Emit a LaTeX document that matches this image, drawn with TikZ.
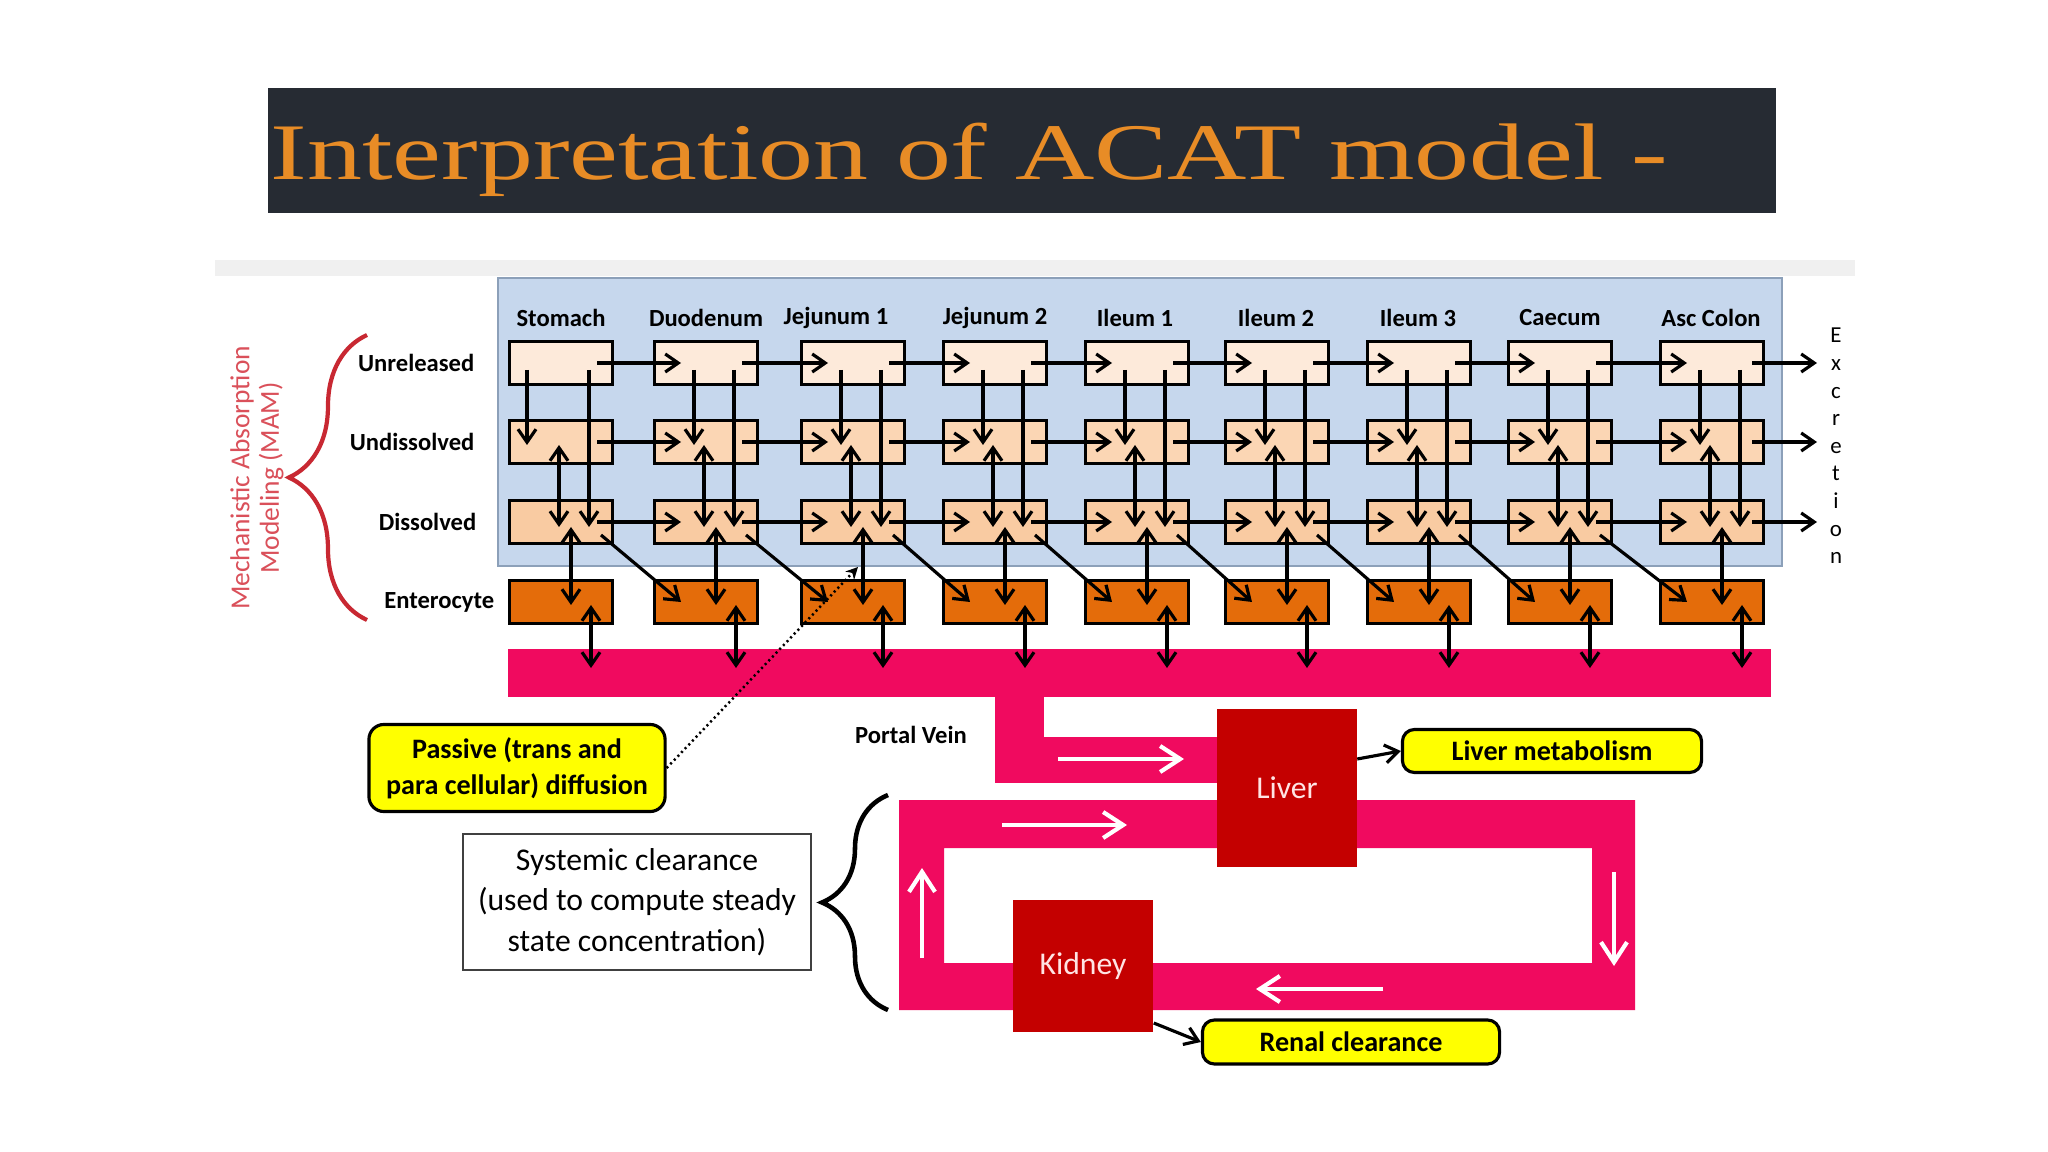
\documentclass[tikz,border=0pt]{standalone}
\usepackage{fontspec}
\setmainfont{Carlito}
\newfontfamily\titlefont{Liberation Serif}
\usetikzlibrary{arrows.meta,calc,decorations.pathreplacing}

\definecolor{titlebg}{RGB}{38,43,51}
\definecolor{titlefg}{RGB}{232,140,38}
\definecolor{panelblue}{RGB}{198,215,237}
\definecolor{panelline}{RGB}{140,160,185}
\definecolor{unrel}{RGB}{253,234,218}
\definecolor{undiss}{RGB}{251,214,180}
\definecolor{diss}{RGB}{249,203,162}
\definecolor{entero}{RGB}{228,108,10}
\definecolor{bloodpink}{RGB}{240,10,95}
\definecolor{organred}{RGB}{196,0,0}
\definecolor{organtext}{RGB}{255,228,228}
\definecolor{calloutyellow}{RGB}{255,255,0}
\definecolor{bracered}{RGB}{200,40,50}
\definecolor{mamred}{RGB}{218,80,90}

\begin{document}
\begin{tikzpicture}[x=0.01cm,y=-0.01cm,
  box/.style={draw=black,line width=1pt,minimum width=10.3mm,minimum height=4.3mm,inner sep=0pt},
  flow/.style={line width=0.9pt,-{Straight Barb[length=1.3mm,width=1.8mm]}},
  both/.style={line width=0.9pt,{Straight Barb[length=1.3mm,width=1.8mm]}-{Straight Barb[length=1.3mm,width=1.8mm]}},
  blood/.style={draw=white,line width=1.2pt,-{Straight Barb[length=2mm,width=2.6mm]}},
  head/.style={font=\fontsize{7}{8}\selectfont\bfseries},
  rowlabel/.style={anchor=east,inner sep=0pt,font=\fontsize{7}{8}\selectfont\bfseries},
  callout/.style={draw=black,line width=0.9pt,fill=calloutyellow,rounded corners=1.2mm,inner sep=0pt,align=center,font=\fontsize{8}{10.2}\selectfont\bfseries},
  organ/.style={fill=organred,text=organtext,inner sep=0pt,font=\fontsize{9}{11}\selectfont}]
  \useasboundingbox (0,0) rectangle (2048,1152);
  \fill[white] (0,0) rectangle (2048,1152);

  % Title bar
  \fill[titlebg] (268,88) rectangle (1776,213);
  \node[anchor=base west,inner sep=0pt,text=titlefg] (title) at (270,180)
    {\titlefont\fontsize{22.8}{27}\selectfont\scalebox{1.37}[1]{Interpretation of ACAT model -}};

  % Panel behind the lumen compartments
  \fill[black!6] (215,260) rectangle (1855,276);
  \filldraw[fill=panelblue,draw=panelline,line width=0.6pt] (498,278) rectangle (1782,566);

  % Blood vessels
  \fill[bloodpink] (508,649) rectangle (1771,697);
  \fill[bloodpink] (995,690) rectangle (1044,783);
  \fill[bloodpink] (995,737) rectangle (1230,783);
  \fill[bloodpink,even odd rule] (899,800) rectangle (1635,1010) (944,848) rectangle (1592,963);

  % Compartments
  \foreach \cx/\hx/\lbl [count=\i] in {561/561/Stomach,706/706/Duodenum,853/836/Jejunum 1,995/995/Jejunum 2,1137/1135/Ileum 1,1277/1276/Ileum 2,1419/1418/Ileum 3,1560/1560/Caecum,1712/1711/Asc Colon} {
    \node[head] (h\i) at (\hx,318) {\lbl};
    \node[box,fill=unrel] (u\i) at (\cx,363) {};
    \node[box,fill=undiss] (ud\i) at (\cx,442) {};
    \node[box,fill=diss] (d\i) at (\cx,522) {};
    \node[box,fill=entero] (en\i) at (\cx,602) {};
  }

  % Exchange within a segment
  \foreach \i/\dx in {1/-34,2/-12,3/-12,4/-12,5/-12,6/-12,7/-12,8/-12,9/-12} {
    \draw[flow] ($(u\i.center)+(\dx,7)$) -- ($(ud\i.center)+(\dx,3)$);
    \draw[flow] ($(u\i.center)+(28,7)$) -- ($(d\i.center)+(28,5)$);
    \draw[both] ($(ud\i.center)+(-2,3)$) -- ($(d\i.center)+(-2,5)$);
    \draw[both] ($(d\i.center)+(10,5)$) -- ($(en\i.center)+(10,3)$);
    \draw[both] ($(en\i.center)+(30,3)$) -- ($(en\i.center)+(30,66)$);
  }

  % Transit to the next segment
  \foreach \i [evaluate=\i as \j using int(\i+1)] in {1,...,8} {
    \draw[flow] ($(u\i.center)+(36,0)$) -- ($(u\j.center)+(-25,0)$);
    \draw[flow] ($(ud\i.center)+(36,0)$) -- ($(ud\j.center)+(-25,0)$);
    \draw[flow] ($(d\i.center)+(36,0)$) -- ($(d\j.center)+(-25,0)$);
    \draw[flow] ($(d\i.center)+(40,13)$) -- ($(en\j.center)+(-25,0)$);
  }

  % Excretion
  \coordinate (exu) at (1817,363);
  \coordinate (exud) at (1817,442);
  \coordinate (exd) at (1817,522);
  \draw[flow] ($(u9.center)+(40,0)$) -- (exu);
  \draw[flow] ($(ud9.center)+(40,0)$) -- (exud);
  \draw[flow] ($(d9.center)+(40,0)$) -- (exd);
  \node[align=center,inner sep=0pt,font=\fontsize{6.5}{7.85}\selectfont] (excr) at (1836,446)
    {E\\x\\c\\r\\e\\t\\i\\o\\n};

  % Row labels and MAM brace
  \node[rowlabel] (lu) at (475,363) {Unreleased};
  \node[rowlabel] (lud) at (475,442) {Undissolved};
  \node[rowlabel] (ld) at (477,522) {Dissolved};
  \node[rowlabel] (len) at (495,602) {Enterocyte};
  \draw[decorate,decoration={brace,amplitude=7.8mm},draw=bracered,line width=1.2pt] (367,620) -- (367,335);
  \node[rotate=90,align=center,inner sep=0pt,text=mamred,font=\fontsize{7.8}{8.4}\selectfont] (mam) at (257,478)
    {Mechanistic Absorption\\Modeling (MAM)};

  % Portal vein, liver and systemic loop
  \node[font=\fontsize{7}{8}\selectfont\bfseries] (portal) at (911,735) {Portal Vein};
  \node[organ,minimum width=13.9mm,minimum height=15.7mm] (liver) at (1287,788) {Liver};
  \node[organ,minimum width=14mm,minimum height=13.1mm] (kidney) at (1083,966) {Kidney};
  \draw[blood] (1058,759) -- (1184,759);
  \draw[blood] (1002,825) -- (1127,825);
  \draw[blood] (1614,872) -- (1614,966);
  \draw[blood] (1383,989) -- (1256,989);
  \draw[blood] (922,958) -- (922,868);

  % Callouts
  \node[callout,minimum width=29.6mm,minimum height=8.7mm,rounded corners=1.5mm] (passive) at (517,768)
    {Passive (trans and\\para cellular) diffusion};
  \coordinate (diffend) at (858,567);
  \draw[line width=0.7pt,dash pattern=on 0.6pt off 0.9pt,-{Stealth[length=1.2mm,width=1.2mm]}] (passive.east) -- (diffend);
  \node[callout,minimum width=29.9mm,minimum height=4.3mm] (livmet) at (1552,751) {Liver metabolism};
  \node[callout,minimum width=29.7mm,minimum height=4.4mm] (renal) at (1351,1042) {Renal clearance};
  \draw[flow] ($(liver.east)+(0,-29)$) -- (livmet.west);
  \draw[flow] ($(kidney.east)+(0,57)$) -- (renal.west);

  % Systemic clearance
  \node[draw=black!75,line width=0.5pt,fill=white,minimum width=34.8mm,minimum height=13.6mm,align=center,inner sep=0pt,
    font=\fontsize{9}{11.6}\selectfont] (syst) at (637,902)
    {Systemic clearance\\(used to compute steady\\state concentration)};
  \draw[decorate,decoration={brace,amplitude=6.6mm},line width=1.3pt] (888,1010) -- (888,795);
\end{tikzpicture}
\end{document}
